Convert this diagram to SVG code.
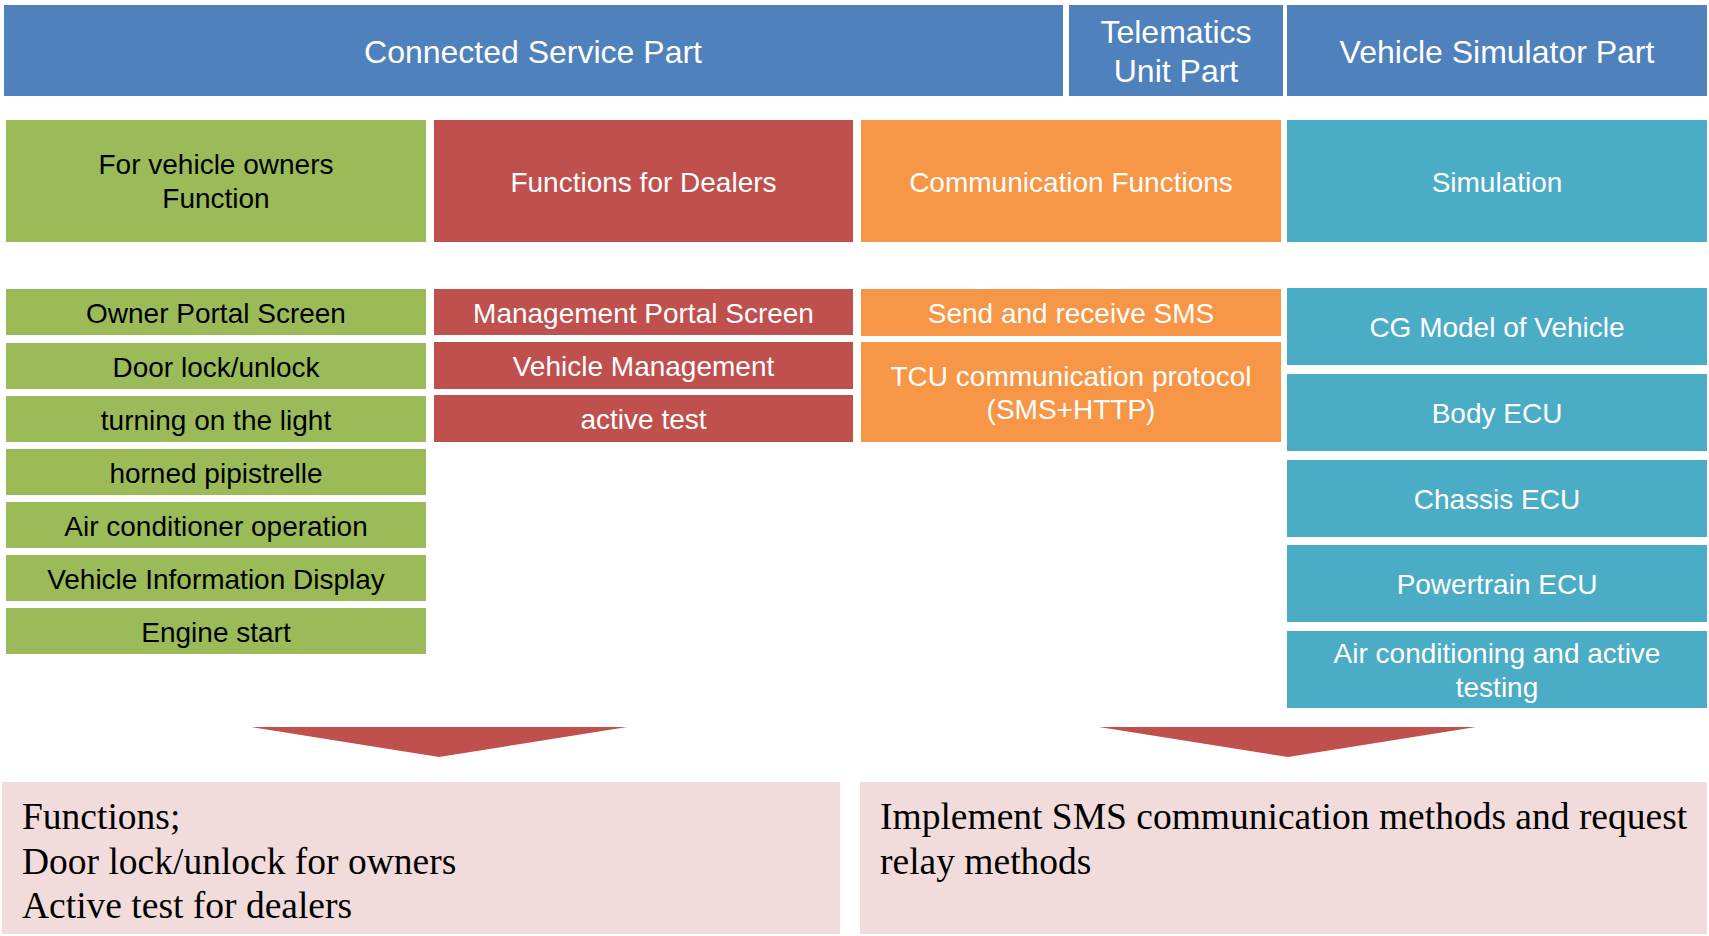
<svg xmlns="http://www.w3.org/2000/svg" width="1709" height="936" viewBox="0 0 1709 936">
  <style>
    .hdr { fill: #4F81BD; }
    .grn { fill: #9BBB59; }
    .red { fill: #C0504D; }
    .org { fill: #F79646; }
    .tea { fill: #4BACC6; }
    .res { fill: #F2DCDB; }
    .arr { fill: #C0504D; }
    text { font-family: "Liberation Sans", Arial, sans-serif; text-anchor: middle; }
    .t32 { font-size: 32px; fill: #FFFFFF; }
    .t28w { font-size: 28px; fill: #FFFFFF; }
    .t28k { font-size: 28px; fill: #000000; }
    .ser { font-family: "Liberation Serif", "Times New Roman", serif; font-size: 37.5px; fill: #000000; text-anchor: start; }
  </style>
  <rect width="1709" height="936" fill="#FFFFFF"/>

  <!-- Part headers -->
  <g id="connected-service-part">
    <rect class="hdr" x="4" y="5" width="1059" height="91"/>
    <text class="t32" x="533" y="63">Connected Service Part</text>
  </g>
  <g id="telematics-unit-part">
    <rect class="hdr" x="1069" y="5" width="214" height="91"/>
    <text class="t32" x="1176" y="43">Telematics</text>
    <text class="t32" x="1176" y="82">Unit Part</text>
  </g>
  <g id="vehicle-simulator-part">
    <rect class="hdr" x="1287" y="5" width="420" height="91"/>
    <text class="t32" x="1497" y="63">Vehicle Simulator Part</text>
  </g>

  <!-- Category boxes -->
  <g id="owners-function">
    <rect class="grn" x="6" y="120" width="420" height="122"/>
    <text class="t28k" x="216" y="174">For vehicle owners</text>
    <text class="t28k" x="216" y="208">Function</text>
  </g>
  <g id="dealers-functions">
    <rect class="red" x="434" y="120" width="419" height="122"/>
    <text class="t28w" x="643.5" y="192">Functions for Dealers</text>
  </g>
  <g id="communication-functions">
    <rect class="org" x="861" y="120" width="420" height="122"/>
    <text class="t28w" x="1071" y="192">Communication Functions</text>
  </g>
  <g id="simulation">
    <rect class="tea" x="1287" y="120" width="420" height="122"/>
    <text class="t28w" x="1497" y="192">Simulation</text>
  </g>

  <!-- Owner functions -->
  <g id="owner-portal-screen">
    <rect class="grn" x="6" y="289" width="420" height="46"/>
    <text class="t28k" x="216" y="323">Owner Portal Screen</text>
  </g>
  <g id="door-lock">
    <rect class="grn" x="6" y="343" width="420" height="46"/>
    <text class="t28k" x="216" y="377">Door lock/unlock</text>
  </g>
  <g id="light">
    <rect class="grn" x="6" y="396" width="420" height="46"/>
    <text class="t28k" x="216" y="430">turning on the light</text>
  </g>
  <g id="horn">
    <rect class="grn" x="6" y="449" width="420" height="46"/>
    <text class="t28k" x="216" y="483">horned pipistrelle</text>
  </g>
  <g id="air-conditioner">
    <rect class="grn" x="6" y="502" width="420" height="46"/>
    <text class="t28k" x="216" y="536">Air conditioner operation</text>
  </g>
  <g id="vehicle-info">
    <rect class="grn" x="6" y="555" width="420" height="46"/>
    <text class="t28k" x="216" y="589">Vehicle Information Display</text>
  </g>
  <g id="engine-start">
    <rect class="grn" x="6" y="608" width="420" height="46"/>
    <text class="t28k" x="216" y="642">Engine start</text>
  </g>

  <!-- Dealer functions -->
  <g id="management-portal">
    <rect class="red" x="434" y="289" width="419" height="46"/>
    <text class="t28w" x="643.5" y="323">Management Portal Screen</text>
  </g>
  <g id="vehicle-management">
    <rect class="red" x="434" y="342" width="419" height="47"/>
    <text class="t28w" x="643.5" y="376">Vehicle Management</text>
  </g>
  <g id="active-test">
    <rect class="red" x="434" y="395" width="419" height="47"/>
    <text class="t28w" x="643.5" y="429">active test</text>
  </g>

  <!-- Communication -->
  <g id="sms">
    <rect class="org" x="861" y="289" width="420" height="47"/>
    <text class="t28w" x="1071" y="323">Send and receive SMS</text>
  </g>
  <g id="tcu-protocol">
    <rect class="org" x="861" y="342" width="420" height="100"/>
    <text class="t28w" x="1071" y="386">TCU communication protocol</text>
    <text class="t28w" x="1071" y="419">(SMS+HTTP)</text>
  </g>

  <!-- Simulation -->
  <g id="cg-model">
    <rect class="tea" x="1287" y="288" width="420" height="77"/>
    <text class="t28w" x="1497" y="337">CG Model of Vehicle</text>
  </g>
  <g id="body-ecu">
    <rect class="tea" x="1287" y="374" width="420" height="77"/>
    <text class="t28w" x="1497" y="423">Body ECU</text>
  </g>
  <g id="chassis-ecu">
    <rect class="tea" x="1287" y="460" width="420" height="77"/>
    <text class="t28w" x="1497" y="509">Chassis ECU</text>
  </g>
  <g id="powertrain-ecu">
    <rect class="tea" x="1287" y="545" width="420" height="77"/>
    <text class="t28w" x="1497" y="594">Powertrain ECU</text>
  </g>
  <g id="ac-active-testing">
    <rect class="tea" x="1287" y="631" width="420" height="77"/>
    <text class="t28w" x="1497" y="663">Air conditioning and active</text>
    <text class="t28w" x="1497" y="697">testing</text>
  </g>

  <!-- Downward arrows -->
  <g id="connectors">
    <polygon class="arr" points="251,727 627,727 439,757"/>
    <polygon class="arr" points="1099,727 1476,727 1288,757"/>
  </g>

  <!-- Results -->
  <g id="result-functions">
    <rect class="res" x="2" y="782" width="838" height="152"/>
    <text class="ser" x="22" y="829">Functions;</text>
    <text class="ser" x="22" y="874">Door lock/unlock for owners</text>
    <text class="ser" x="22" y="918">Active test for dealers</text>
  </g>
  <g id="result-sms">
    <rect class="res" x="860" y="782" width="847" height="152"/>
    <text class="ser" x="880" y="829">Implement SMS communication methods and request</text>
    <text class="ser" x="880" y="874">relay methods</text>
  </g>
</svg>
